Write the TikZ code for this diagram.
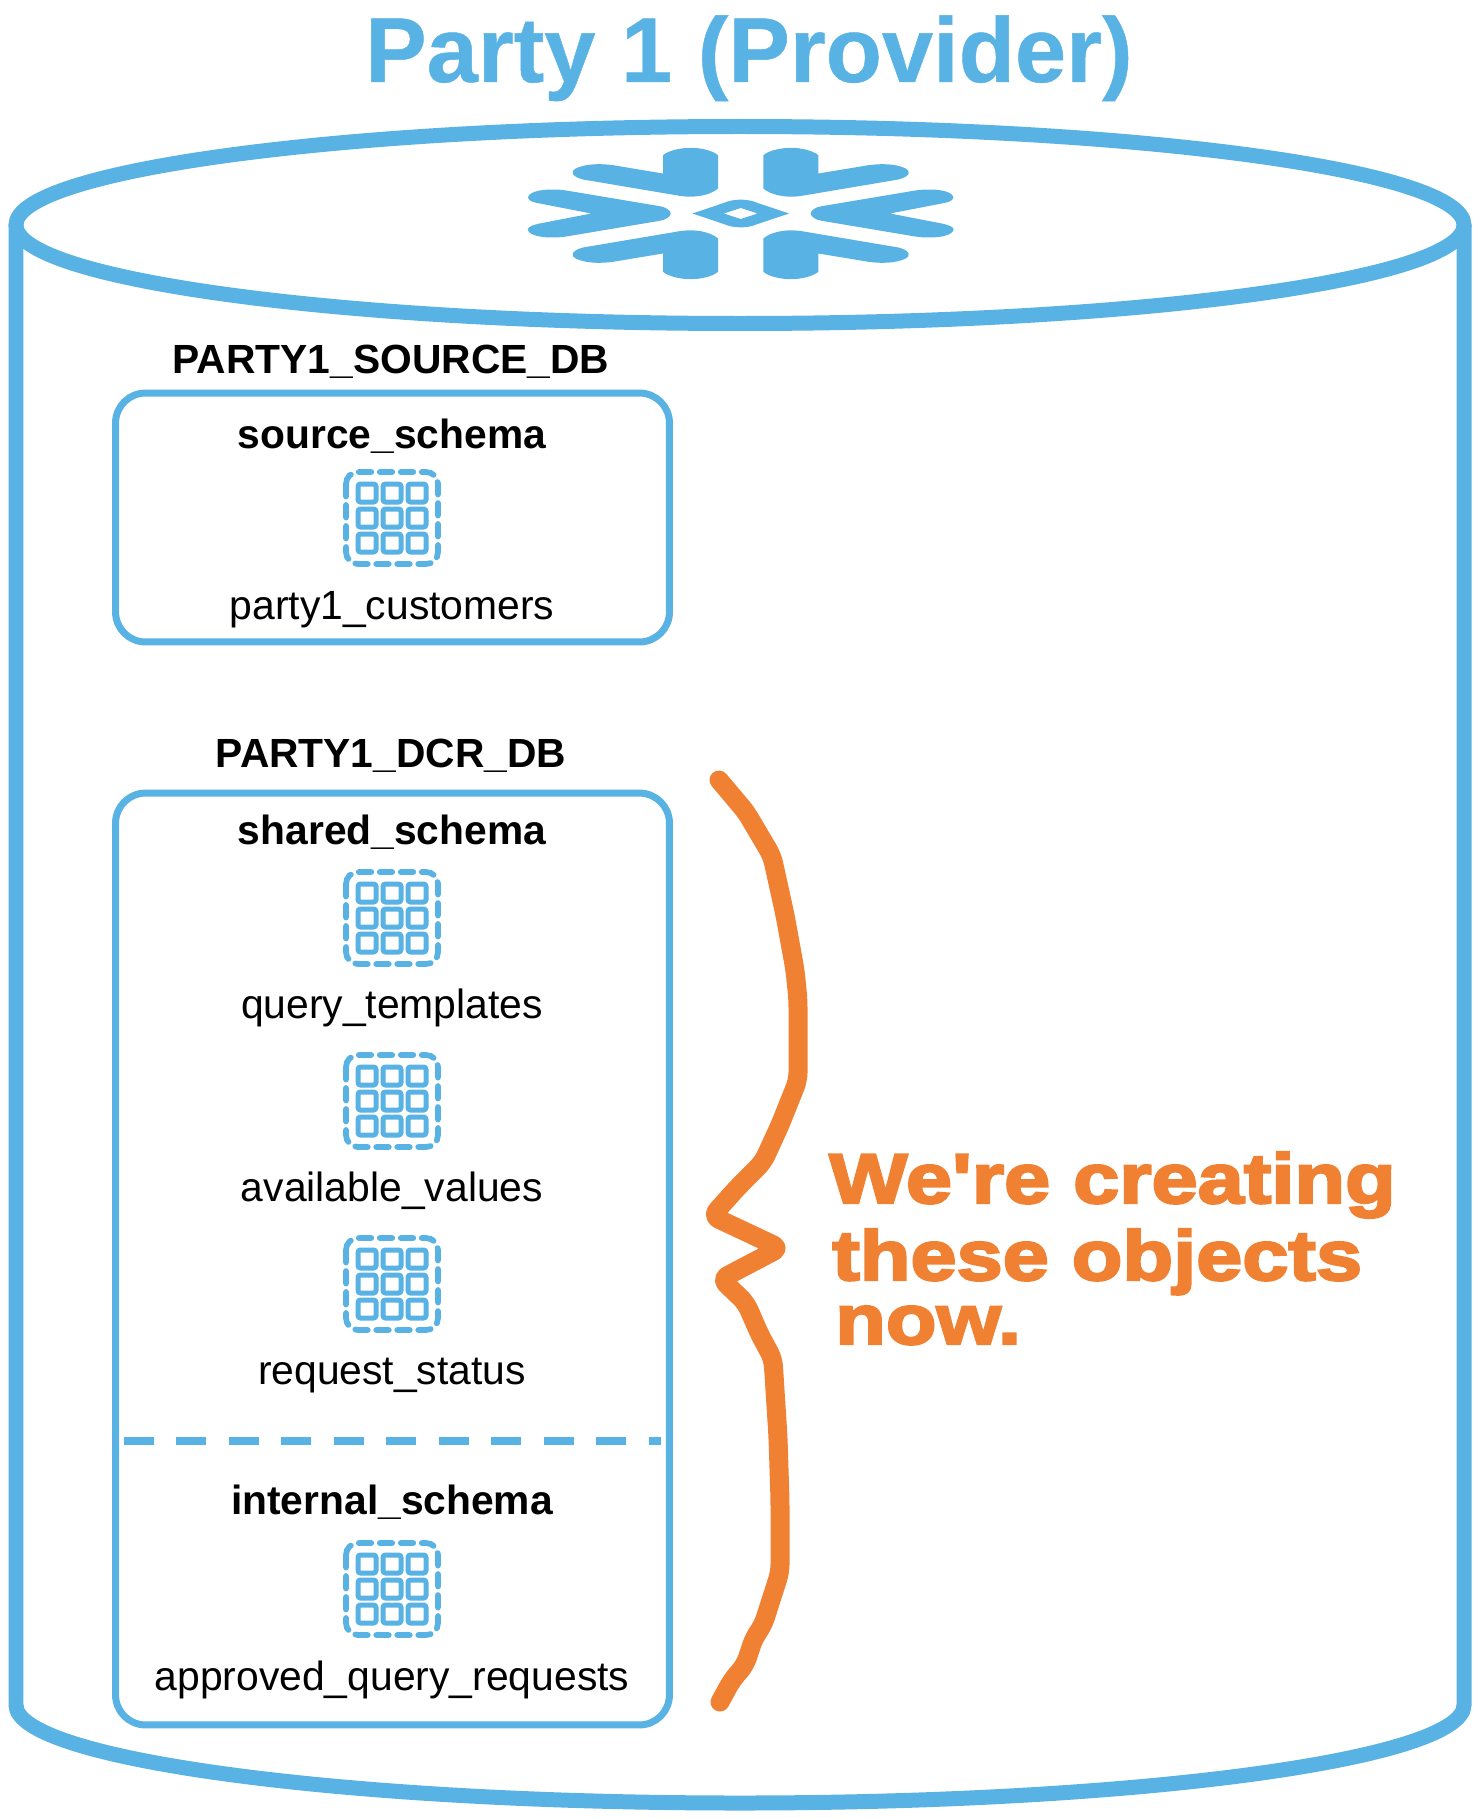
\documentclass[tikz,border=0pt]{standalone}
\usepackage{fontspec}
\setmainfont{Liberation Sans}
\newfontfamily\heavyfont[FakeBold=3.4,FakeStretch=1.18]{Liberation Sans Bold}
\newfontfamily\titlefont[FakeBold=0.5]{Liberation Sans Bold}
\usepackage{xcolor}
\usetikzlibrary{positioning}
\usetikzlibrary{calc}
\definecolor{snowblue}{HTML}{58B2E4}
\definecolor{markorange}{HTML}{F08133}

\begin{document}
\begin{tikzpicture}[
  x=0.02cm, y=-0.02cm,
  shell/.style={draw=snowblue, line width=0.3cm},
  dbbox/.style={
    rectangle,
    rounded corners=0.6cm,
    draw=snowblue,
    line width=0.14cm,
    minimum width=11.08cm
  },
  dblabel/.style={anchor=base, font=\fontsize{23.2pt}{28pt}\selectfont\bfseries},
  schemalabel/.style={anchor=base, font=\fontsize{23.2pt}{27pt}\selectfont\bfseries},
  tablelabel/.style={anchor=base, font=\fontsize{23.25pt}{27pt}\selectfont},
  notelabel/.style={anchor=base west, text=markorange, font=\fontsize{40pt}{44pt}\heavyfont},
  flakepart/.style={fill=snowblue, draw=none},
  pics/tableicon/.style={code={
    \draw[snowblue, line width=0.115cm, rounded corners=0.24cm, line cap=round,
      dash pattern=on 0.25cm off 0.17cm] (-46,-46) rectangle (46,46);
    \foreach \col in {-25,0,25}
      \foreach \row in {-25,0,25}
        \draw[snowblue, line width=0.1cm, rounded corners=0.05cm]
          (\col-9,\row-9) rectangle (\col+9,\row+9);
  }}
]
\useasboundingbox (0,0) rectangle (1480,1818);
% Title
\node[anchor=base, text=snowblue, font=\fontsize{52.4pt}{60pt}\titlefont] (title) at (749,82) {Party 1 (Provider)};
% Cylinder
\draw[shell] (740,225) ellipse (724 and 98.5);
\draw[shell] (16,225) -- (16,1705) arc[start angle=180, end angle=0, x radius=724, y radius=98] -- (1464,225);
% Snowflake logo
\begin{scope}[shift={(740.7,213.5)}]
\foreach \sx in {1,-1}
  \foreach \sy in {1,-1} {
    \fill[flakepart, xscale=\sx, yscale=\sy]
      (-77.7,-58.3) .. controls (-72,-63) and (-60,-65.7) .. (-50.3,-65.7)
      .. controls (-40,-65.7) and (-28,-63) .. (-22.7,-58.3) -- (-22.7,-25)
      .. controls (-28,-20) and (-42,-15) .. (-60,-17.5) -- (-157.7,-34)
      .. controls (-170,-37) and (-170,-43) .. (-165,-45)
      .. controls (-155,-50) and (-140,-50) .. (-127.7,-48.3) -- (-77.7,-40) -- cycle;
  }
\foreach \sx in {1,-1}
  \fill[flakepart, xscale=\sx]
    (-70,0) .. controls (-70,-3) and (-75,-6.5) .. (-81,-7.3) -- (-172.7,-22.7)
    .. controls (-188,-25.5) and (-212,-24) .. (-212.7,-16)
    .. controls (-212,-12) and (-206,-11) .. (-201,-10) -- (-149.3,0)
    -- (-201,10) .. controls (-206,11) and (-213,13) .. (-213,16)
    .. controls (-212,24) and (-188,25.5) .. (-172.7,22.7) -- (-81,7.3)
    .. controls (-75,6.5) and (-70,3) .. (-70,0) -- cycle;
\fill[flakepart, even odd rule]
  (-48.3,0) -- (-17,-10.5) .. controls (-7,-15) and (7,-15) .. (17,-10.5) -- (48.3,0)
  -- (17,10.5) .. controls (7,15) and (-7,15) .. (-17,10.5) -- cycle
  (-17,0) -- (0,-5.5) -- (17,0) -- (0,5.5) -- cycle;
\end{scope}
% PARTY1_SOURCE_DB
\node[dblabel] (srcdb) at (391,373) {PARTY1\_SOURCE\_DB};
\node[dbbox, minimum height=4.98cm] (srcbox) at (392.5,517.5) {};
\node[schemalabel] (srcschema) at (392,448) {source\_schema};
\pic at (392,518) {tableicon};
\node[tablelabel] (customers) at (392,619) {party1\_customers};
% PARTY1_DCR_DB
\node[dblabel] (dcrdb) at (391,767) {PARTY1\_DCR\_DB};
\node[dbbox, minimum height=18.64cm] (dcrbox) at (392.5,1259) {};
\node[schemalabel] (sharedschema) at (392,844) {shared\_schema};
\pic at (392,918) {tableicon};
\node[tablelabel] (templates) at (392,1018) {query\_templates};
\pic at (392,1101) {tableicon};
\node[tablelabel] (values) at (392,1201) {available\_values};
\pic at (392,1284) {tableicon};
\node[tablelabel] (status) at (392,1384) {request\_status};
\coordinate (divl) at (124,1441);
\coordinate (divr) at (661,1441);
\draw[snowblue, line width=0.146cm, dash pattern=on 0.6cm off 0.45cm] (divl) -- (divr);
\node[schemalabel] (internalschema) at (392,1514) {internal\_schema};
\pic at (392,1589) {tableicon};
\node[tablelabel] (requests) at (392,1690) {approved\_query\_requests};
% Hand drawn brace
\draw[markorange, line width=0.38cm, line cap=round, line join=round, rounded corners=0.15cm]
  (719,780) -- (746,812) -- (772,856) -- (785,915) -- (795,970) -- (798,1000) -- (798,1080)
  -- (780,1125) -- (763,1162) -- (738,1187) -- (712,1216) -- (780,1248) -- (721,1279) -- (746,1303)
  -- (760,1335) -- (773,1359) -- (778,1437) -- (780,1500) -- (780,1572) -- (763,1625) -- (754,1638)
  -- (745,1665) -- (732,1680) -- (720,1702);
% Note
\node[notelabel] (note1) at (823,1203) {We're creating};
\node[notelabel] (note2) at (826,1280) {these objects};
\node[notelabel] (note3) at (829,1344) {now.};
\end{tikzpicture}
\end{document}
